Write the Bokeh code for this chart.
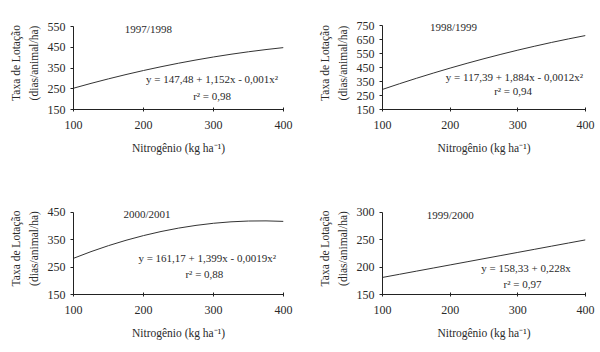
from bokeh.plotting import figure
from bokeh.layouts import gridplot
from bokeh.models import Range1d, FixedTicker, Label
from bokeh.embed import file_html
from bokeh.resources import INLINE

# Nitrogen doses (kg/ha)
nitrogen = [100, 125, 150, 175, 200, 225, 250, 275, 300, 325, 350, 375, 400]

# Stocking rate (dias/animal/ha) per season
s_1997 = [252.7, 275.9, 297.8, 318.5, 337.9, 356.1, 373.0, 388.7, 403.1, 416.3, 428.2, 438.9, 448.3]
s_1998 = [293.8, 334.1, 373.0, 410.3, 446.2, 480.5, 513.4, 544.7, 574.6, 602.9, 629.8, 655.1, 679.0]
s_2000 = [282.1, 306.4, 328.3, 347.8, 365.0, 379.8, 392.2, 402.2, 409.9, 415.2, 418.1, 418.6, 416.8]
s_1999 = [181.1, 186.8, 192.5, 198.2, 203.9, 209.6, 215.3, 221.0, 226.7, 232.4, 238.1, 243.8, 249.5]

seasons = ["1997/1998", "1998/1999", "2000/2001", "1999/2000"]
equations = ["y = 147,48 + 1,152x - 0,001x²", "y = 117,39 + 1,884x - 0,0012x²",
             "y = 161,17 + 1,399x - 0,0019x²", "y = 158,33 + 0,228x"]
r2_texts = ["r² = 0,98", "r² = 0,94", "r² = 0,88", "r² = 0,97"]

x_ticks = [100, 200, 300, 400]
y_ticks = [[150, 250, 350, 450, 550], [150, 250, 350, 450, 550, 650, 750],
           [150, 250, 350, 450], [150, 200, 250, 300]]

FONT = "Liberation Serif"
TXT = "#2a2a2a"

# layout / annotation styling per panel
borders = [(72, 17, 16, 67), (77, 15, 15, 59), (73, 17, 26, 56), (82, 15, 23, 58)]
y_top_pad = [48.2, 65.2, 35.7, 17.6]  # headroom above the top tick (data units, ~10 px)
year_pos = [(207, 540), (205, 737), (205, 443), (200, 294.5)]
eq_pos = [(298, 295), (295, 385), (291, 282), (312, 198)]
r2_pos = [(298, 217), (293, 280), (287, 225), (307, 169.5)]


def panel(i, ys):
    l, r, t, b = borders[i]
    yt = y_ticks[i]
    p = figure(width=300, height=176, output_backend="svg", toolbar_location=None,
               x_range=Range1d(100, 400), y_range=Range1d(yt[0], yt[-1] + y_top_pad[i]),
               min_border_left=l, min_border_right=r, min_border_top=t, min_border_bottom=b)
    p.outline_line_color = None
    p.grid.visible = False
    p.background_fill_color = "white"
    p.border_fill_color = "white"
    p.line(nitrogen, ys, line_color="#333333", line_width=1.0)

    p.xaxis.ticker = FixedTicker(ticks=x_ticks)
    p.yaxis.ticker = FixedTicker(ticks=yt)
    p.yaxis.bounds = (yt[0], yt[-1])
    for ax in (p.xaxis, p.yaxis):
        ax.axis_line_color = "#222222"
        ax.major_tick_line_color = "#222222"
        ax.minor_tick_line_color = None
        ax.major_label_text_font = FONT
        ax.major_label_text_font_size = "12px"
        ax.major_label_text_color = TXT
        ax.axis_label_text_font = FONT
        ax.axis_label_text_font_size = "11.5px"
        ax.axis_label_text_font_style = "normal"
        ax.axis_label_text_color = TXT
    p.xaxis.major_tick_in = 2
    p.xaxis.major_tick_out = 2
    p.xaxis.major_label_standoff = 9
    p.xaxis.axis_label = "Nitrogênio (kg ha⁻¹)"
    p.xaxis.axis_label_standoff = 10
    p.yaxis.major_tick_in = 0
    p.yaxis.major_tick_out = 3
    p.yaxis.major_label_standoff = 5
    p.yaxis.axis_label = "Taxa de Lotação\n(dias/animal/ha)"
    p.yaxis.axis_label_standoff = 5
    p.yaxis.axis_label_text_line_height = 1.5

    for txt, (x, y) in ((seasons[i], year_pos[i]), (equations[i], eq_pos[i]), (r2_texts[i], r2_pos[i])):
        p.add_layout(Label(x=x, y=y, text=txt, text_font=FONT, text_font_size="11px",
                           text_color=TXT, text_align="center", text_baseline="middle"))
    return p


plots = [panel(0, s_1997), panel(1, s_1998), panel(2, s_2000), panel(3, s_1999)]
grid = gridplot([[plots[0], plots[1]], [plots[2], plots[3]]], toolbar_location=None)

open("out.html", "w").write(file_html(grid, INLINE))
